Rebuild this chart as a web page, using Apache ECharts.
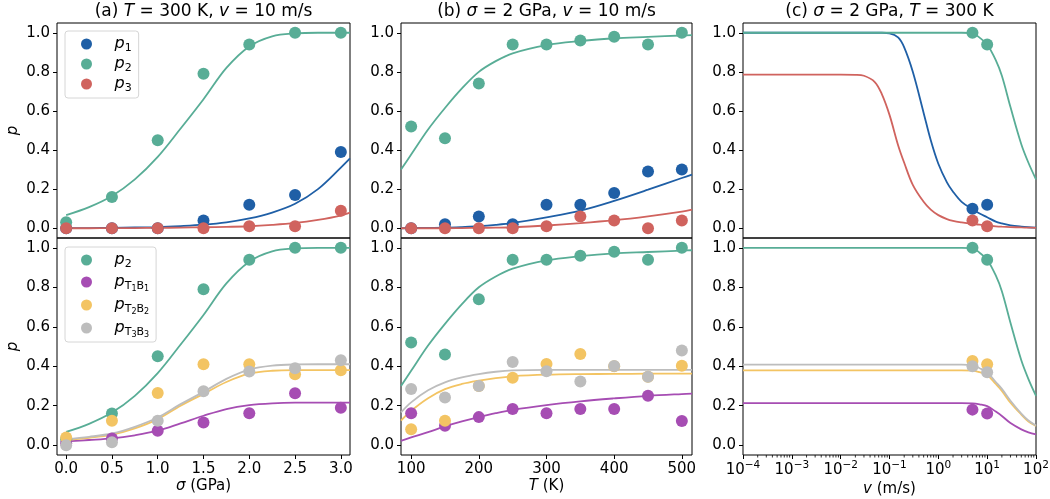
<!DOCTYPE html>
<html><head><meta charset="utf-8">
<script src="https://cdn.jsdelivr.net/npm/echarts@6/dist/echarts.min.js"></script>
<style>html,body{margin:0;padding:0;background:#fff}#c{width:1050px;height:499px}</style>
</head><body><div id="c"></div><script>
// ---------- measured points ----------
const sigmaPts = [0, 0.5, 1.0, 1.5, 2.0, 2.5, 3.0];
const a_p1 = [0, 0, 0, 0.04, 0.12, 0.17, 0.39];
const a_p2 = [0.03, 0.16, 0.45, 0.79, 0.94, 1.0, 1.0];
const a_p3 = [0, 0, 0, 0, 0.01, 0.01, 0.09];
const a_t1b1 = [0.01, 0.034, 0.073, 0.115, 0.162, 0.263, 0.19];
const a_t2b2 = [0.039, 0.124, 0.264, 0.41, 0.41, 0.359, 0.38];
const a_t3b3 = [0.0, 0.014, 0.124, 0.273, 0.373, 0.39, 0.43];

const TPts = [100, 150, 200, 250, 300, 350, 400, 450, 500];
const b_p1 = [0, 0.02, 0.06, 0.02, 0.12, 0.12, 0.18, 0.29, 0.30];
const b_p2 = [0.52, 0.46, 0.74, 0.94, 0.94, 0.96, 0.98, 0.94, 1.0];
const b_p3 = [0, 0, 0, 0, 0.01, 0.06, 0.04, 0, 0.04];
const b_t1b1 = [0.162, 0.098, 0.142, 0.183, 0.162, 0.183, 0.183, 0.25, 0.122];
const b_t2b2 = [0.081, 0.124, 0.30, 0.342, 0.411, 0.462, 0.40, 0.347, 0.403];
const b_t3b3 = [0.284, 0.242, 0.30, 0.421, 0.374, 0.323, 0.401, 0.347, 0.48];

const vPts = [5, 10];
const c_p1 = [0.10, 0.12];
const c_p2 = [1.0, 0.94];
const c_p3 = [0.04, 0.01];
const c_t1b1 = [0.18, 0.16];
const c_t2b2 = [0.427, 0.41];
const c_t3b3 = [0.40, 0.37];

// ---------- fitted curves ----------
const sigmaFit = [0, 0.25, 0.5, 0.75, 1.0, 1.25, 1.5, 1.75, 2.0, 2.25, 2.5, 2.75, 3.0, 3.1];
const a_p1Fit = [0.001, 0.001, 0.002, 0.004, 0.006, 0.011, 0.018, 0.03, 0.05, 0.08, 0.125, 0.2, 0.31, 0.357];
const a_p2Fit = [0.067, 0.108, 0.165, 0.25, 0.365, 0.51, 0.66, 0.82, 0.93, 0.982, 0.997, 1.0, 1.0, 1.0];
const a_p3Fit = [0, 0, 0.001, 0.001, 0.002, 0.003, 0.005, 0.007, 0.01, 0.017, 0.027, 0.043, 0.065, 0.08];
const a_t1b1Fit = [0.019, 0.026, 0.034, 0.05, 0.073, 0.11, 0.149, 0.183, 0.203, 0.212, 0.215, 0.215, 0.215, 0.215];
const a_t2b2Fit = [0.027, 0.037, 0.053, 0.085, 0.132, 0.2, 0.26, 0.32, 0.362, 0.377, 0.38, 0.38, 0.38, 0.38];
const a_t3b3Fit = [0.03, 0.042, 0.059, 0.093, 0.14, 0.208, 0.27, 0.336, 0.383, 0.403, 0.409, 0.41, 0.41, 0.41];

const TFit = [85, 100, 125, 150, 175, 200, 225, 250, 300, 350, 400, 450, 500, 515];
const b_p1Fit = [0, 0.001, 0.002, 0.003, 0.006, 0.01, 0.017, 0.027, 0.056, 0.09, 0.14, 0.197, 0.257, 0.274];
const b_p2Fit = [0.30, 0.377, 0.505, 0.615, 0.715, 0.80, 0.855, 0.895, 0.937, 0.958, 0.972, 0.979, 0.986, 0.988];
const b_p3Fit = [0, 0, 0, 0, 0.001, 0.002, 0.003, 0.005, 0.014, 0.026, 0.041, 0.061, 0.085, 0.095];
const b_t1b1Fit = [0.022, 0.039, 0.066, 0.095, 0.12, 0.142, 0.162, 0.179, 0.203, 0.222, 0.237, 0.25, 0.259, 0.261];
const b_t2b2Fit = [0.124, 0.174, 0.238, 0.284, 0.31, 0.327, 0.34, 0.349, 0.357, 0.36, 0.361, 0.362, 0.362, 0.362];
const b_t3b3Fit = [0.166, 0.217, 0.278, 0.318, 0.343, 0.36, 0.372, 0.379, 0.382, 0.382, 0.382, 0.382, 0.382, 0.382];

const vFit = [1e-4, 1e-3, 1e-2, 0.02, 0.03, 0.05, 0.07, 0.1, 0.15, 0.2, 0.3, 0.5, 0.7, 1, 1.5, 2, 3, 5, 7, 10, 15, 20, 30, 50, 70, 100];
const c_p1Fit = [1, 1, 1, 1, 1, 1, 1, 0.997, 0.976, 0.925, 0.80, 0.59, 0.45, 0.33, 0.235, 0.187, 0.135, 0.097, 0.075, 0.056, 0.034, 0.025, 0.015, 0.008, 0.005, 0.003];
const c_p2Fit = [1, 1, 1, 1, 1, 1, 1, 1, 1, 1, 1, 1, 1, 1, 1, 1, 1, 0.998, 0.975, 0.94, 0.86, 0.78, 0.62, 0.43, 0.335, 0.25];
const c_p3Fit = [0.786, 0.786, 0.786, 0.785, 0.78, 0.748, 0.685, 0.58, 0.425, 0.335, 0.222, 0.135, 0.095, 0.067, 0.047, 0.038, 0.03, 0.022, 0.018, 0.014, 0.01, 0.008, 0.006, 0.004, 0.003, 0.002];
const c_t1b1Fit = [0.213, 0.213, 0.213, 0.213, 0.213, 0.213, 0.213, 0.213, 0.213, 0.213, 0.213, 0.213, 0.213, 0.213, 0.213, 0.213, 0.213, 0.212, 0.207, 0.198, 0.17, 0.148, 0.112, 0.08, 0.065, 0.055];
const c_t2b2Fit = [0.379, 0.379, 0.379, 0.379, 0.379, 0.379, 0.379, 0.379, 0.379, 0.379, 0.379, 0.379, 0.379, 0.379, 0.379, 0.379, 0.379, 0.378, 0.37, 0.355, 0.31, 0.275, 0.215, 0.155, 0.12, 0.097];
const c_t3b3Fit = [0.408, 0.408, 0.408, 0.408, 0.408, 0.408, 0.408, 0.408, 0.408, 0.408, 0.408, 0.408, 0.408, 0.408, 0.408, 0.408, 0.408, 0.405, 0.39, 0.37, 0.32, 0.285, 0.225, 0.16, 0.125, 0.10];

// ---------- ticks / labels ----------
const yTicks = [0, 0.2, 0.4, 0.6, 0.8, 1.0];
const sigmaTicks = [0, 0.5, 1.0, 1.5, 2.0, 2.5, 3.0];
const TTicks = [100, 200, 300, 400, 500];
const minorV = [2e-4,3e-4,4e-4,5e-4,6e-4,7e-4,8e-4,9e-4,2e-3,3e-3,4e-3,5e-3,6e-3,7e-3,8e-3,9e-3,
  0.02,0.03,0.04,0.05,0.06,0.07,0.08,0.09,0.2,0.3,0.4,0.5,0.6,0.7,0.8,0.9,2,3,4,5,6,7,8,9,20,30,40,50,60,70,80,90];
const titles = ['(a) {i|T} = 300 K, {i|v} = 10 m/s', '(b) {i|σ} = 2 GPa, {i|v} = 10 m/s', '(c) {i|σ} = 2 GPa, {i|T} = 300 K'];
const xNames = ['{i|σ} (GPa)', '{i|T} (K)', '{i|v} (m/s)'];
const legendTop = ['p1', 'p2', 'p3'];
const legendBot = ['p2', 'pT1B1', 'pT2B2', 'pT3B3'];

const COL = {p1:'#1f5fa6', p2:'#58ad96', p3:'#d0635e', pT1B1:'#a64db3', pT2B2:'#f3c463', pT3B3:'#bdbdbd'};
const FF = 'DejaVu Sans';

const cols = [{left:57, width:293}, {left:401, width:291}, {left:743, width:293}];
const rows = [{top:23, height:215}, {top:238, height:217}];

const grid = [], xAxis = [], yAxis = [], series = [];
const richBase = {
  i: {fontFamily: FF, fontStyle: 'italic', fontSize: 15, color: '#000'},
};
rows.forEach((r, ri) => cols.forEach((c, ci) => {
  const gi = ri * 3 + ci;
  grid.push({left: c.left, top: r.top, width: c.width, height: r.height, show: true,
    borderColor: '#000', borderWidth: 1, backgroundColor: 'transparent', containLabel: false, outerBoundsMode: 'none'});
  const bottom = ri === 1;
  const common = {gridIndex: gi, axisLine: {show: false, onZero: false}, splitLine: {show: false}};
  let xa;
  const lab = {show: bottom, fontFamily: FF, fontSize: 15, color: '#000', margin: 7};
  const tick = {show: bottom, length: 4, lineStyle: {color: '#000', width: 1}};
  if (ci === 0) {
    xa = Object.assign({type: 'value', min: -0.1, max: 3.1,
      axisLabel: Object.assign({customValues: sigmaTicks, formatter: v => v.toFixed(1)}, lab),
      axisTick: Object.assign({customValues: sigmaTicks}, tick)}, common);
  } else if (ci === 1) {
    xa = Object.assign({type: 'value', min: 85, max: 515,
      axisLabel: Object.assign({customValues: TTicks, formatter: v => String(Math.round(v))}, lab),
      axisTick: Object.assign({customValues: TTicks}, tick)}, common);
  } else {
    xa = Object.assign({type: 'log', logBase: 10, min: 1e-4, max: 100,
      axisLabel: Object.assign({}, lab, {margin: 5, formatter: v => {
        const e = Math.round(Math.log10(v));
        return '{b|10}{e|' + (e < 0 ? '\u2212' + (-e) : e) + '}';
      }, rich: {b: {fontFamily: FF, fontSize: 15, color: '#000', lineHeight: 20},
               e: {fontFamily: FF, fontSize: 10.5, color: '#000', padding: [0, 0, 10, 0], lineHeight: 20}}}),
      axisTick: tick}, common);
  }
  if (bottom) {
    Object.assign(xa, {name: xNames[ci], nameLocation: 'middle', nameGap: ci === 2 ? 25 : 24,
      nameTextStyle: {fontFamily: FF, fontSize: 15, color: '#000', rich: richBase}});
  }
  xAxis.push(xa);
  const ya = Object.assign({type: 'value', min: -0.05, max: 1.05,
    axisLabel: {customValues: yTicks, formatter: v => v.toFixed(1), fontFamily: FF, fontSize: 15, color: '#000', margin: 7},
    axisTick: {customValues: yTicks, length: 4, lineStyle: {color: '#000', width: 1}}}, common);
  if (ci === 0) Object.assign(ya, {name: 'p', nameLocation: 'middle', nameGap: 36, nameRotate: 90,
    nameTextStyle: {fontFamily: FF, fontStyle: 'italic', fontSize: 15, color: '#000'}});
  yAxis.push(ya);
}));

const zip = (xs, ys) => xs.map((x, i) => [x, ys[i]]);
function line(gi, xs, ys, key) {
  series.push({type: 'line', name: 'fit_' + key, xAxisIndex: gi, yAxisIndex: gi, data: zip(xs, ys),
    showSymbol: false, symbol: 'none', smooth: 0.35, silent: true,
    lineStyle: {color: COL[key], width: 1.8}, itemStyle: {color: COL[key]}, z: 2});
}
function pts(gi, xs, ys, key) {
  series.push({type: 'scatter', name: key, xAxisIndex: gi, yAxisIndex: gi, data: zip(xs, ys),
    symbol: 'circle', symbolSize: 12, itemStyle: {color: COL[key], opacity: 1}, silent: true, z: 3});
}
// panel a
line(0, sigmaFit, a_p1Fit, 'p1'); line(0, sigmaFit, a_p2Fit, 'p2'); line(0, sigmaFit, a_p3Fit, 'p3');
pts(0, sigmaPts, a_p1, 'p1'); pts(0, sigmaPts, a_p2, 'p2'); pts(0, sigmaPts, a_p3, 'p3');
line(3, sigmaFit, a_p2Fit, 'p2'); line(3, sigmaFit, a_t1b1Fit, 'pT1B1'); line(3, sigmaFit, a_t2b2Fit, 'pT2B2'); line(3, sigmaFit, a_t3b3Fit, 'pT3B3');
pts(3, sigmaPts, a_p2, 'p2'); pts(3, sigmaPts, a_t1b1, 'pT1B1'); pts(3, sigmaPts, a_t2b2, 'pT2B2'); pts(3, sigmaPts, a_t3b3, 'pT3B3');
// panel b
line(1, TFit, b_p1Fit, 'p1'); line(1, TFit, b_p2Fit, 'p2'); line(1, TFit, b_p3Fit, 'p3');
pts(1, TPts, b_p1, 'p1'); pts(1, TPts, b_p2, 'p2'); pts(1, TPts, b_p3, 'p3');
line(4, TFit, b_p2Fit, 'p2'); line(4, TFit, b_t1b1Fit, 'pT1B1'); line(4, TFit, b_t2b2Fit, 'pT2B2'); line(4, TFit, b_t3b3Fit, 'pT3B3');
pts(4, TPts, b_p2, 'p2'); pts(4, TPts, b_t1b1, 'pT1B1'); pts(4, TPts, b_t2b2, 'pT2B2'); pts(4, TPts, b_t3b3, 'pT3B3');
// panel c
line(2, vFit, c_p1Fit, 'p1'); line(2, vFit, c_p2Fit, 'p2'); line(2, vFit, c_p3Fit, 'p3');
pts(2, vPts, c_p1, 'p1'); pts(2, vPts, c_p2, 'p2'); pts(2, vPts, c_p3, 'p3');
line(5, vFit, c_p2Fit, 'p2'); line(5, vFit, c_t1b1Fit, 'pT1B1'); line(5, vFit, c_t2b2Fit, 'pT2B2'); line(5, vFit, c_t3b3Fit, 'pT3B3');
pts(5, vPts, c_p2, 'p2'); pts(5, vPts, c_t1b1, 'pT1B1'); pts(5, vPts, c_t2b2, 'pT2B2'); pts(5, vPts, c_t3b3, 'pT3B3');
// minor ticks on the log axis
series.push({type: 'custom', xAxisIndex: 5, yAxisIndex: 5, data: minorV.map(v => [v, -0.05]), clip: false, silent: true, z: 5,
  renderItem: (params, api) => {
    const p = api.coord([api.value(0), api.value(1)]);
    return {type: 'line', shape: {x1: p[0], y1: p[1], x2: p[0], y2: p[1] + 2.5}, style: {stroke: '#000', lineWidth: 0.8}};
  }});

const legRich = {
  i: {fontFamily: FF, fontStyle: 'italic', fontSize: 16, color: '#000', lineHeight: 20, padding: [0, 0, 0, 9]},
  s: {fontFamily: FF, fontSize: 11, color: '#000', padding: [9, 0, 0, 0], lineHeight: 20},
  r: {fontFamily: FF, fontSize: 11, color: '#000', padding: [8, 0, 0, 0], lineHeight: 20},
  ss: {fontFamily: FF, fontSize: 8, color: '#000', padding: [14, 0, 0, 0], lineHeight: 20}
};
function legFmt(name) {
  if (name.length === 2) return '{i|p}{s|' + name[1] + '}';
  return '{i|p}{r|T}{ss|' + name[2] + '}{r|B}{ss|' + name[4] + '}';
}
const legendCommon = {orient: 'vertical', icon: 'circle', itemWidth: 28, itemHeight: 11, itemGap: 0,
  selectedMode: false, backgroundColor: 'rgba(255,255,255,0.85)', borderColor: '#d6d6d6', borderWidth: 1,
  borderRadius: 3, formatter: legFmt, textStyle: {fontFamily: FF, fontSize: 15, color: '#000', rich: legRich}};
const legend = [
  Object.assign({}, legendCommon, {data: legendTop, left: 65, top: 31, padding: [3, 7, 4, 16], itemGap: 0}),
  Object.assign({}, legendCommon, {data: legendBot, left: 65, top: 247, padding: [3, 7, 3, 16], itemGap: 1})
];

const title = titles.map((t, i) => ({text: t, left: cols[i].left + cols[i].width / 2, top: 3, textAlign: 'center', padding: 0,
  textStyle: {fontFamily: FF, fontSize: 17, fontWeight: 'normal', color: '#000',
    rich: {i: {fontFamily: FF, fontStyle: 'italic', fontSize: 17, color: '#000'}}}}));

const chart = echarts.init(document.getElementById('c'), null, {renderer: 'canvas'});
chart.setOption({animation: false, backgroundColor: '#fff', title, legend, grid, xAxis, yAxis, series});
</script></body></html>
